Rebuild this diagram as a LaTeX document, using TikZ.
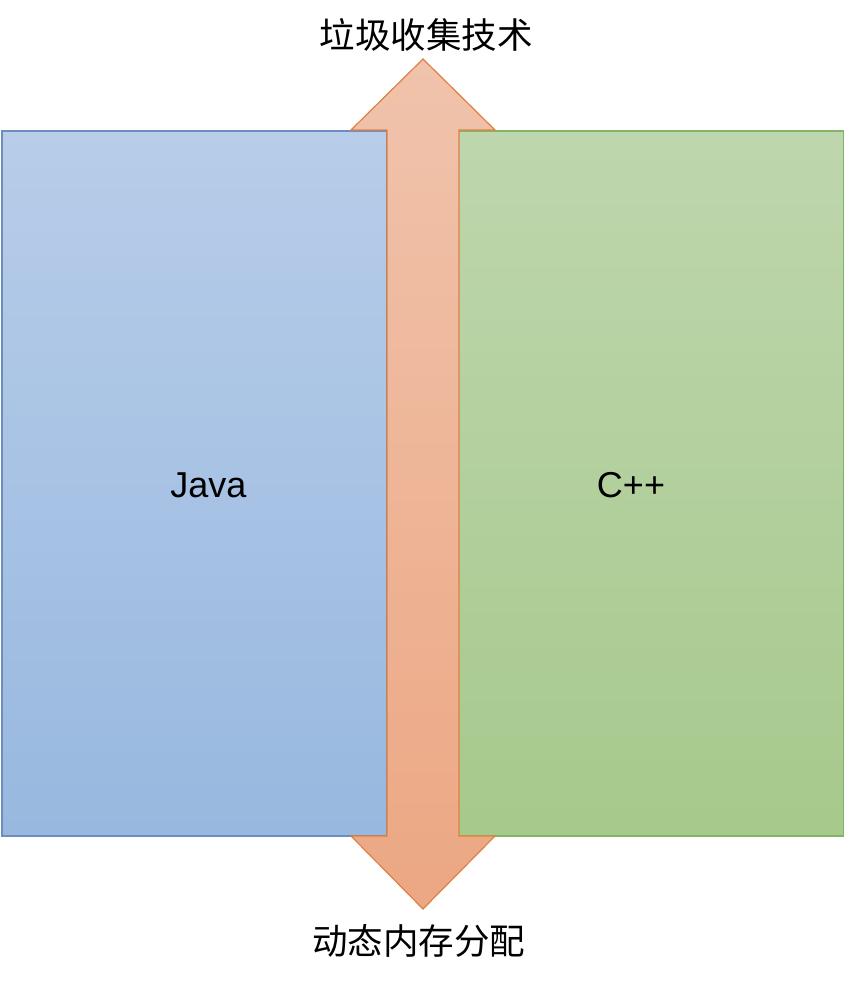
\documentclass[tikz,border=0pt]{standalone}
\usepackage{fontspec}
\setmainfont{Liberation Sans}
\newfontfamily\cjk{Noto Sans CJK SC}
\definecolor{javaTop}{RGB}{183,205,233}
\definecolor{javaBot}{RGB}{152,184,223}
\definecolor{javaLine}{RGB}{108,142,191}
\definecolor{cppTop}{RGB}{190,214,173}
\definecolor{cppBot}{RGB}{166,201,140}
\definecolor{cppLine}{RGB}{130,179,102}
\definecolor{arTop}{RGB}{240,195,172}
\definecolor{arBot}{RGB}{236,167,131}
\definecolor{arLine}{RGB}{224,128,64}
\begin{document}
\begin{tikzpicture}[x=1bp,y=-1bp,
  panel/.style={rectangle,inner sep=0pt,outer sep=0pt,minimum width=385bp,minimum height=705bp,line width=1.2bp},
  javapanel/.style={panel,draw=javaLine,top color=javaTop,bottom color=javaBot},
  cpppanel/.style={panel,draw=cppLine,top color=cppTop,bottom color=cppBot},
  bigarrow/.style={draw=arLine,line width=1.2bp,line join=miter,top color=arTop,bottom color=arBot},
  langtext/.style={font=\fontsize{36bp}{40bp}\selectfont,inner sep=0pt,anchor=center},
  cntext/.style={font=\cjk\fontsize{35.5bp}{39bp}\selectfont,inner sep=0pt,anchor=center}]
\useasboundingbox (0,0) rectangle (844,986);
\node[javapanel] (java) at (194.5,483.5) {};
\node[cpppanel] (cpp) at (651,483.5) {};
\path[bigarrow] (423,59) -- (495,130) -- (459,130) -- (459,836) -- (495,836) -- (423,909)
  -- (351,836) -- (387,836) -- (387,130) -- (351,130) -- cycle;
\node[langtext] (javalabel) at (208.5,485) {Java};
\node[langtext] (cpplabel) at (631,485) {C++};
\node[cntext] (gc) at (426,35) {垃圾收集技术};
\node[cntext] (alloc) at (418.5,941) {动态内存分配};
\end{tikzpicture}
\end{document}
